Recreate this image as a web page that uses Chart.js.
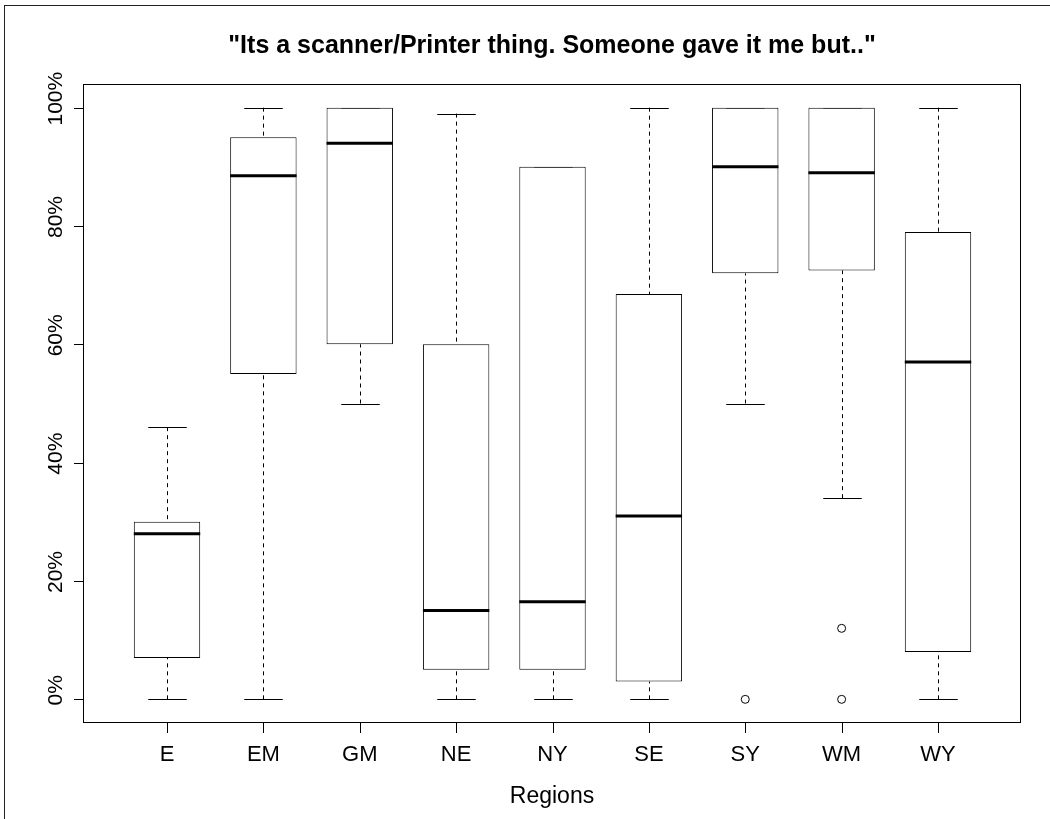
<!DOCTYPE html>
<html>
<head>
<meta charset="utf-8">
<script src="https://cdn.jsdelivr.net/npm/chart.js@4/dist/chart.umd.min.js"></script>
<style>
  html, body { margin: 0; padding: 0; background: #fff; }
  #marco { position: absolute; left: 4px; top: 5px; width: 1100px; height: 900px;
           border-left: 1px solid #222; border-top: 1px solid #222; }
  #grafico { position: absolute; left: 0; top: 0; }
</style>
</head>
<body>
<div id="marco"></div>
<canvas id="grafico" width="1050" height="819"></canvas>
<script>
const regiones = ['E', 'EM', 'GM', 'NE', 'NY', 'SE', 'SY', 'WM', 'WY'];
const bigoteInf = [0, 0, 50, 0, 0, 0, 50, 34, 0];
const cuartil1 = [7, 55, 60, 5, 5, 3, 72, 72.5, 8];
const mediana = [28, 88.5, 94, 15, 16.5, 31, 90, 89, 57];
const cuartil3 = [30, 95, 100, 60, 90, 68.5, 100, 100, 79];
const bigoteSup = [46, 100, 100, 99, 90, 100, 100, 100, 100];
const atipicosRegion = ['SY', 'WM', 'WM'];
const atipicosValor = [0, 12, 0];
const ticksY = [0, 20, 40, 60, 80, 100];

const titulo = '"Its a scanner/Printer thing. Someone gave it me but.."';
const tituloX = 'Regions';
const fuente = '"Liberation Sans", Arial, Helvetica, sans-serif';

const dibujoR = {
  id: 'dibujoR',
  beforeDatasetsDraw(chart) {
    const ctx = chart.ctx;
    const x = chart.scales.x, y = chart.scales.y;
    ctx.save();
    ctx.strokeStyle = '#000';
    ctx.lineWidth = 1;
    regiones.forEach((r, i) => {
      const px = Math.round(x.getPixelForValue(i + 1)) + 0.5;
      const tapa = (x.getPixelForValue(1.2) - x.getPixelForValue(1));
      ctx.setLineDash([4, 4]);
      ctx.beginPath();
      if (bigoteSup[i] > cuartil3[i]) {
        ctx.moveTo(px, y.getPixelForValue(bigoteSup[i]));
        ctx.lineTo(px, y.getPixelForValue(cuartil3[i]));
      }
      if (bigoteInf[i] < cuartil1[i]) {
        ctx.moveTo(px, y.getPixelForValue(bigoteInf[i]));
        ctx.lineTo(px, y.getPixelForValue(cuartil1[i]));
      }
      ctx.stroke();
      ctx.setLineDash([]);
      ctx.beginPath();
      [bigoteSup[i], bigoteInf[i]].forEach(v => {
        const py = Math.round(y.getPixelForValue(v)) + 0.5;
        ctx.moveTo(px - tapa, py);
        ctx.lineTo(px + tapa, py);
      });
      ctx.stroke();
    });
    ctx.restore();
  },
  afterDatasetsDraw(chart) {
    const ctx = chart.ctx;
    const x = chart.scales.x, y = chart.scales.y;
    const area = chart.chartArea;
    const cajas = chart.getDatasetMeta(0).data;
    ctx.save();
    ctx.strokeStyle = '#000';

    // medianas
    ctx.lineWidth = 3;
    ctx.beginPath();
    cajas.forEach((c, i) => {
      const py = y.getPixelForValue(mediana[i]);
      ctx.moveTo(c.x - c.width / 2, py);
      ctx.lineTo(c.x + c.width / 2, py);
    });
    ctx.stroke();

    // recuadro y marcas de ejes
    ctx.lineWidth = 1;
    ctx.strokeRect(area.left + 0.5, area.top + 0.5, area.right - area.left - 1, area.bottom - area.top - 1);
    ctx.beginPath();
    ticksY.forEach(v => {
      const py = Math.round(y.getPixelForValue(v)) + 0.5;
      ctx.moveTo(area.left - 9, py);
      ctx.lineTo(area.left, py);
    });
    regiones.forEach((r, i) => {
      const px = Math.round(x.getPixelForValue(i + 1)) + 0.5;
      ctx.moveTo(px, area.bottom);
      ctx.lineTo(px, area.bottom + 10);
    });
    ctx.stroke();

    // textos
    ctx.fillStyle = '#000';
    ctx.font = '22px ' + fuente;
    ctx.textAlign = 'center';
    ctx.textBaseline = 'alphabetic';
    regiones.forEach((r, i) => {
      ctx.fillText(r, x.getPixelForValue(i + 1), area.bottom + 38);
    });
    ctx.font = '21px ' + fuente;
    ticksY.forEach(v => {
      ctx.save();
      ctx.translate(area.left - 21, y.getPixelForValue(v) - 9);
      ctx.rotate(-Math.PI / 2);
      ctx.fillText(v + '%', 0, 0);
      ctx.restore();
    });
    const centro = (area.left + area.right) / 2;
    ctx.font = '23px ' + fuente;
    ctx.fillText(tituloX, centro, area.bottom + 80);
    ctx.font = 'bold 25px ' + fuente;
    ctx.fillText(titulo, centro, 53);
    ctx.restore();
  }
};

new Chart(document.getElementById('grafico'), {
  type: 'bar',
  data: {
    datasets: [{
      data: regiones.map((r, i) => ({ x: i + 1, y: [cuartil1[i], cuartil3[i]] })),
      backgroundColor: '#fff',
      borderColor: '#000',
      borderWidth: 1,
      borderSkipped: false,
      barPercentage: 0.8,
      categoryPercentage: 1
    }, {
      type: 'scatter',
      data: atipicosRegion.map((r, i) => ({ x: regiones.indexOf(r) + 1, y: atipicosValor[i] })),
      pointRadius: 4,
      pointBackgroundColor: '#fff',
      pointBorderColor: '#000',
      pointBorderWidth: 1
    }]
  },
  options: {
    responsive: false,
    animation: false,
    layout: { padding: { left: 83, top: 84, right: 29, bottom: 96 } },
    scales: {
      x: { type: 'linear', min: 0.1284, max: 9.8612, offset: false, display: false },
      y: { type: 'linear', min: -4, max: 104, display: false }
    },
    plugins: { legend: { display: false }, tooltip: { enabled: false } }
  },
  plugins: [dibujoR]
});
</script>
</body>
</html>
